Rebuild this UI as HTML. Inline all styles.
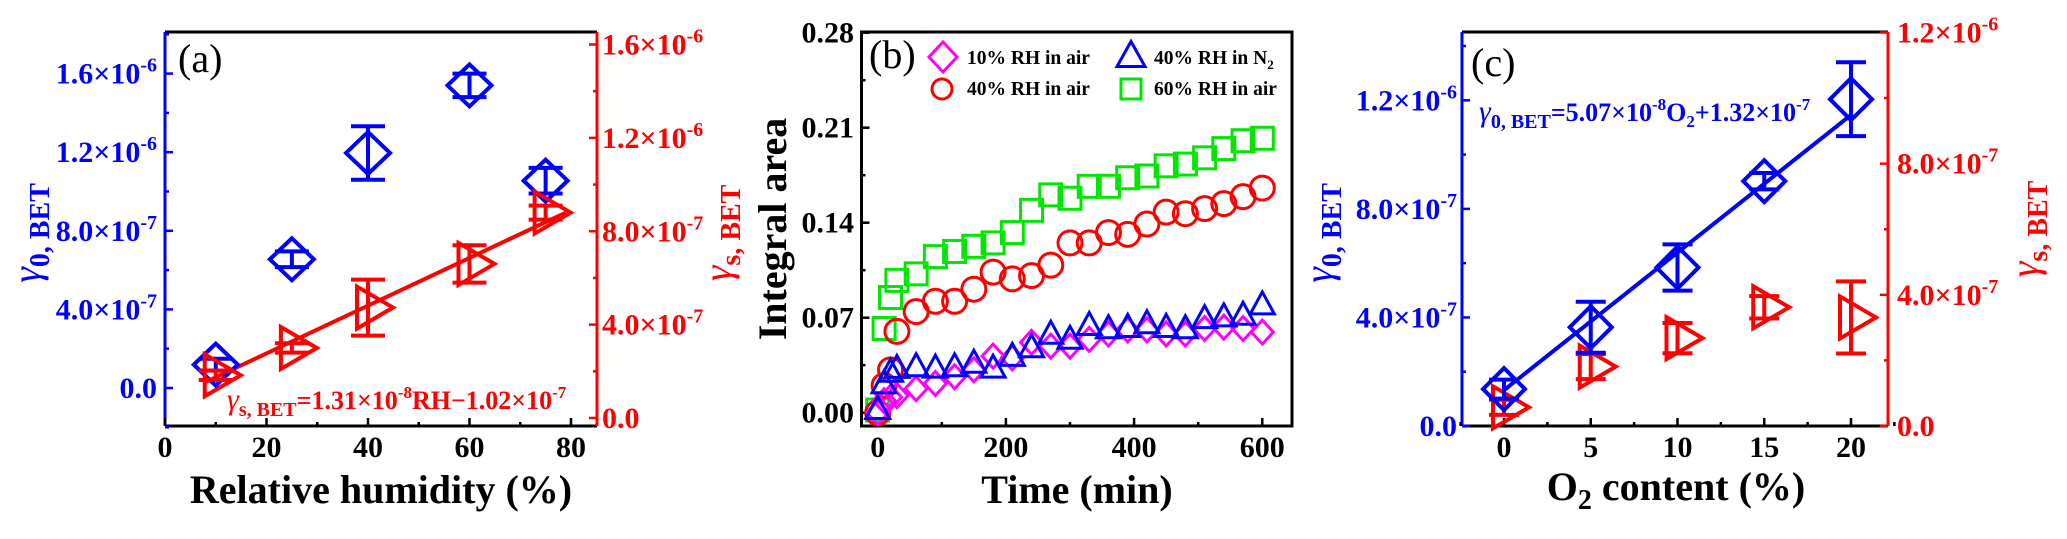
<!DOCTYPE html>
<html><head><meta charset="utf-8"><title>Uptake coefficient charts</title>
<style>
html,body{margin:0;padding:0;background:#fff;}
svg, svg text{font-family:"Liberation Serif","DejaVu Serif",serif;}
</style></head>
<body>
<svg id="chart" width="2067" height="534" viewBox="0 0 2067 534" xmlns="http://www.w3.org/2000/svg" font-family="Liberation Serif, DejaVu Serif, serif">
<rect x="0" y="0" width="2067" height="534" fill="#fff"/>
</svg>
<script>
// ---------- Panel (a) data ----------
const aRH = [10, 25, 40, 60, 75];
const aG0 = [1.19e-7, 6.55e-7, 1.196e-6, 1.54e-6, 1.055e-6];
const aG0Err = [0.3e-7, 0.4e-7, 1.36e-7, 0.6e-7, 0.65e-7];
const aGs = [1.83e-7, 3.0e-7, 4.73e-7, 6.6e-7, 8.8e-7];
const aGsErr = [0.2e-7, 0.2e-7, 1.2e-7, 0.8e-7, 0.3e-7];
const aFitX = [8, 79];
const aFitY = [1.54e-7, 8.8e-7];
const aXTicks = [0, 20, 40, 60, 80];
const aYTicks = [0, 4e-7, 8e-7, 1.2e-6, 1.6e-6];
const aYLabels = ['0.0', '4.0×10', '8.0×10', '1.2×10', '1.6×10'];
const aYExps = ['', '-7', '-7', '-6', '-6'];

// ---------- Panel (b) data ----------
const bTime = [0, 10, 20, 30, 60, 90, 120, 150, 180, 210, 240, 270, 300, 330, 360, 390, 420, 450, 480, 510, 540, 570, 600];
const b10Air = [0, 0.0088, 0.0114, 0.0126, 0.0177, 0.0215, 0.0265, 0.0316, 0.0417, 0.0404, 0.0518, 0.049, 0.049, 0.054, 0.058, 0.061, 0.061, 0.058, 0.058, 0.062, 0.063, 0.062, 0.0594];
const b40N2 = [0.0025, 0.0215, 0.030, 0.0328, 0.034, 0.033, 0.034, 0.0366, 0.033, 0.0417, 0.048, 0.058, 0.0543, 0.0644, 0.062, 0.063, 0.0657, 0.063, 0.062, 0.0695, 0.0708, 0.072, 0.0796];
const b40Air = [0, 0.020, 0.0316, 0.0599, 0.0745, 0.0821, 0.0821, 0.091, 0.1036, 0.0986, 0.101, 0.1087, 0.1251, 0.1251, 0.1327, 0.1314, 0.139, 0.1478, 0.1466, 0.1504, 0.1541, 0.1592, 0.1655];
const b60Air = [0.002, 0.062, 0.0849, 0.0975, 0.1023, 0.1150, 0.1188, 0.1226, 0.1251, 0.1327, 0.1491, 0.1605, 0.1580, 0.1668, 0.1668, 0.1731, 0.1744, 0.1819, 0.1832, 0.1878, 0.1946, 0.2004, 0.2022];
const bXTicks = [0, 200, 400, 600];
const bYTicks = [0, 0.07, 0.14, 0.21, 0.28];
const bYLabels = ['0.00', '0.07', '0.14', '0.21', '0.28'];

// ---------- Panel (c) data ----------
const cO2 = [0, 5, 10, 15, 20];
const cG0 = [1.36e-7, 3.64e-7, 5.84e-7, 9.02e-7, 1.204e-6];
const cG0Err = [0.35e-7, 0.94e-7, 0.85e-7, 0.3e-7, 1.36e-7];
const cGs = [0.57e-7, 1.81e-7, 2.68e-7, 3.62e-7, 3.31e-7];
const cGsErr = [0.23e-7, 0.38e-7, 0.46e-7, 0.34e-7, 1.1e-7];
const cFitSlope = [5.07e-8];
const cFitIntercept = [1.32e-7];
const cFitRange = [0, 20];
const cXTicks = [0, 5, 10, 15, 20];
const cYLTicks = [0, 4e-7, 8e-7, 1.2e-6];
const cYLLabels = ['0.0', '4.0×10', '8.0×10', '1.2×10'];
const cYLExps = ['', '-7', '-7', '-6'];
const cYRTicks = [0, 4e-7, 8e-7, 1.2e-6];
const cYRLabels = ['0.0', '4.0×10', '8.0×10', '1.2×10'];
const cYRExps = ['', '-7', '-7', '-6'];

const NS = 'http://www.w3.org/2000/svg';
const svg = document.getElementById('chart');
const BLUE = '#0000ff', RED = '#ff0000', GREEN = '#00e600', MAG = '#ff00ff', BLK = '#000';
const FF = '"Liberation Serif", "DejaVu Serif", serif';
function mk(tag, attrs, parent) {
  const e = document.createElementNS(NS, tag);
  for (const k in attrs) e.setAttribute(k, attrs[k]);
  if (tag === 'text') e.style.fontFamily = FF;
  (parent || svg).appendChild(e);
  return e;
}
function lin(d0, d1, p0, p1) { return v => p0 + (v - d0) * (p1 - p0) / (d1 - d0); }
function grp(name) {
  const g = mk('g', {});
  
  
  return g;
}
function diamondPts(cx, cy, hw, hh) { return `${cx},${cy - hh} ${cx + hw},${cy} ${cx},${cy + hh} ${cx - hw},${cy}`; }
function triRightPts(cx, cy) { return `${cx - 11},${cy - 21} ${cx - 11},${cy + 21} ${cx + 25},${cy}`; }
function triUpPts(cx, cy, w, h) { return `${cx - w / 2},${cy + h * 0.42} ${cx + w / 2},${cy + h * 0.42} ${cx},${cy - h * 0.58}`; }
function errPath(cx, y1, y2, hw) { return `M${cx - hw},${y1}H${cx + hw}M${cx},${y1}V${y2}M${cx - hw},${y2}H${cx + hw}`; }
function sciText(parent, x, y, main, exp, anchor, color, size, name) {
  const t = mk('text', { x: x, y: y, 'text-anchor': anchor, fill: color, 'font-size': size, 'font-weight': 'bold' }, parent);
  
  
  const s1 = mk('tspan', {}, t); s1.textContent = main;
  if (exp) { const s2 = mk('tspan', { dy: -12, 'font-size': Math.round(size * 0.66) }, t); s2.textContent = exp; }
  return t;
}
function vTitle(parent, x, cy, sub, color, name) {
  const t = mk('text', { transform: `translate(${x},${cy}) rotate(-90)`, 'text-anchor': 'middle', fill: color, 'font-weight': 'bold', 'font-size': 40 }, parent);
  
  
  const a = mk('tspan', { 'font-style': 'italic', 'font-weight': 'normal' }, t); a.textContent = 'γ';
  const b = mk('tspan', { dy: 9, 'font-size': 28 }, t); b.textContent = sub;
  return t;
}
function ticksX(parent, sx, vals, y, len) {
  vals.forEach(v => mk('line', { x1: sx(v), x2: sx(v), y1: y, y2: y - len, stroke: BLK, 'stroke-width': 2.5 }, parent));
}
function ticksY(parent, sy, vals, x, len, color) {
  vals.forEach(v => mk('line', { x1: x, x2: x + len, y1: sy(v), y2: sy(v), stroke: color, 'stroke-width': 2.5 }, parent));
}
function range(a, b, s) { const r = []; for (let v = a; v <= b + 1e-12; v += s) r.push(v); return r; }

// ================= PANEL A =================
(function () {
  const L = 165, R = 597, T = 32, B = 426;
  const sx = lin(0, 80, 165, 571);
  const yl = lin(0, 1.6e-6, 388, 73.6);
  const yr = lin(0, 1.6e-6, 418, 44.5);
  const g = grp('panel-a');
  const axes = grp('panel-a-axes'); g.appendChild(axes);
  mk('line', { x1: L, x2: R, y1: T, y2: T, stroke: BLK, 'stroke-width': 3 }, axes);
  mk('line', { x1: L, x2: R, y1: B, y2: B, stroke: BLK, 'stroke-width': 3 }, axes);
  mk('line', { x1: L, x2: L, y1: T, y2: B, stroke: BLUE, 'stroke-width': 3 }, axes);
  mk('line', { x1: R, x2: R, y1: T, y2: B, stroke: RED, 'stroke-width': 3 }, axes);
  ticksX(axes, sx, aXTicks, B, 8);
  ticksX(axes, sx, range(10, 70, 20), B, 4);
  ticksY(axes, yl, aYTicks, L, 8, BLUE);
  ticksY(axes, yl, range(-2e-7, 1.8e-6, 4e-7), L, 4, BLUE);
  ticksY(axes, yr, aYTicks, R, -8, RED);
  ticksY(axes, yr, range(2e-7, 1.4e-6, 4e-7), R, -4, RED);
  aXTicks.forEach((v, i) => { const t = mk('text', { x: sx(v), y: 457, 'text-anchor': 'middle', 'font-size': 30, 'font-weight': 'bold', fill: BLK }, axes);   t.textContent = String(v); });
  aYTicks.forEach((v, i) => sciText(axes, 157, yl(v) + 10, aYLabels[i], aYExps[i], 'end', BLUE, 30, 'left-y-tick-label'));
  aYTicks.forEach((v, i) => sciText(axes, 602, yr(v) + 10, aYLabels[i], aYExps[i], 'start', RED, 30, 'right-y-tick-label'));
  const xt = mk('text', { x: 381, y: 503, 'text-anchor': 'middle', 'font-size': 40, 'font-weight': 'bold', fill: BLK }, g);
    xt.textContent = 'Relative humidity (%)';
  vTitle(g, 40, 233, '0, BET', BLUE, 'left-y-axis-title');
  vTitle(g, 731, 233, 's, BET', RED, 'right-y-axis-title');
  const pl = mk('text', { x: 178, y: 72, 'font-size': 40, fill: BLK }, g);
    pl.textContent = '(a)';
  const fl = mk('line', { x1: sx(aFitX[0]), y1: yr(aFitY[0]), x2: sx(aFitX[1]), y2: yr(aFitY[1]), stroke: RED, 'stroke-width': 4 }, g);
   
  aRH.forEach((x, i) => {
    const cx = sx(x), cy = yl(aG0[i]);
    const e = mk('path', { d: errPath(cx, yl(aG0[i] + aG0Err[i]), yl(aG0[i] - aG0Err[i]), 17), stroke: BLUE, 'stroke-width': 4, fill: 'none' }, g);
     
    const m = mk('polygon', { points: diamondPts(cx, cy, 22, 21), stroke: BLUE, 'stroke-width': 4, fill: 'none' }, g);
     
  });
  aRH.forEach((x, i) => {
    const cx = sx(x), cy = yr(aGs[i]);
    const e = mk('path', { d: errPath(cx, yr(aGs[i] + aGsErr[i]), yr(aGs[i] - aGsErr[i]), 17), stroke: RED, 'stroke-width': 4, fill: 'none' }, g);
     
    const m = mk('polygon', { points: triRightPts(cx, cy), stroke: RED, 'stroke-width': 4, fill: 'none', 'stroke-linejoin': 'miter' }, g);
     
  });
  const eq = mk('text', { x: 227, y: 409, fill: RED, 'font-weight': 'bold', 'font-size': 26 }, g);
   
  eq.innerHTML = '<tspan font-style="italic" font-weight="normal" font-size="30">γ</tspan><tspan dy="7" font-size="20">s, BET</tspan><tspan dy="-7">=1.31×10</tspan><tspan dy="-11" font-size="17">-8</tspan><tspan dy="11">RH−1.02×10</tspan><tspan dy="-11" font-size="17">-7</tspan>';
})();

// ================= PANEL B =================
(function () {
  const L = 861.5, R = 1292, T = 32, B = 426;
  const sx = lin(0, 600, 877.7, 1262.3);
  const sy = lin(0, 0.28, 412.7, 32.7);
  const g = grp('panel-b');
  const axes = grp('panel-b-axes'); g.appendChild(axes);
  mk('rect', { x: L, y: T, width: R - L, height: B - T, fill: 'none', stroke: BLK, 'stroke-width': 3 }, axes);
  ticksX(axes, sx, bXTicks, B, 8);
  ticksX(axes, sx, range(100, 500, 200), B, 4);
  ticksY(axes, sy, bYTicks, L, 8, BLK);
  ticksY(axes, sy, range(0.035, 0.245, 0.07), L, 4, BLK);
  bXTicks.forEach(v => { const t = mk('text', { x: sx(v), y: 457, 'text-anchor': 'middle', 'font-size': 30, 'font-weight': 'bold', fill: BLK }, axes);   t.textContent = String(v); });
  bYTicks.forEach((v, i) => { const t = mk('text', { x: 854, y: sy(v) + 10, 'text-anchor': 'end', 'font-size': 30, 'font-weight': 'bold', fill: BLK }, axes);   t.textContent = bYLabels[i]; });
  const xt = mk('text', { x: 1077, y: 503, 'text-anchor': 'middle', 'font-size': 40, 'font-weight': 'bold', fill: BLK }, g);
    xt.textContent = 'Time (min)';
  const yt = mk('text', { transform: 'translate(786,229) rotate(-90)', 'text-anchor': 'middle', 'font-size': 40, 'font-weight': 'bold', fill: BLK }, g);
    yt.textContent = 'Integral area';
  const pl = mk('text', { x: 869, y: 68, 'font-size': 40, fill: BLK }, g);
    pl.textContent = '(b)';
  const sw = 3;
  bTime.forEach((t, i) => { const m = mk('rect', { x: sx(t) - 11, y: sy(b60Air[i]) - 11, width: 22, height: 22, fill: 'none', stroke: GREEN, 'stroke-width': sw }, g);   });
  bTime.forEach((t, i) => { const m = mk('circle', { cx: sx(t), cy: sy(b40Air[i]), r: 12, fill: 'none', stroke: RED, 'stroke-width': sw }, g);   });
  bTime.forEach((t, i) => { const m = mk('polygon', { points: diamondPts(sx(t), sy(b10Air[i]), 11, 12), fill: 'none', stroke: MAG, 'stroke-width': sw }, g);   });
  bTime.forEach((t, i) => { const m = mk('polygon', { points: triUpPts(sx(t), sy(b40N2[i]), 24, 22), fill: 'none', stroke: BLUE, 'stroke-width': sw }, g);   });
  const lg = grp('legend'); g.appendChild(lg);
  const e1 = mk('polygon', { points: diamondPts(943, 57, 14, 15), fill: 'none', stroke: MAG, 'stroke-width': 3 }, lg);  
  const e2 = mk('polygon', { points: triUpPts(1131, 56, 28, 25), fill: 'none', stroke: BLUE, 'stroke-width': 3 }, lg);  
  const e3 = mk('circle', { cx: 942, cy: 89, r: 10, fill: 'none', stroke: RED, 'stroke-width': 3 }, lg);  
  const e4 = mk('rect', { x: 1121, y: 79, width: 20, height: 20, fill: 'none', stroke: GREEN, 'stroke-width': 3 }, lg);  
  const t1 = mk('text', { x: 967, y: 64, 'font-size': 19.5, 'font-weight': 'bold', fill: BLK }, lg);   t1.textContent = '10% RH in air';
  const t2 = mk('text', { x: 1154, y: 64, 'font-size': 19.5, 'font-weight': 'bold', fill: BLK }, lg);   t2.innerHTML = '40% RH in N<tspan dy="5" font-size="13">2</tspan>';
  const t3 = mk('text', { x: 967, y: 95, 'font-size': 19.5, 'font-weight': 'bold', fill: BLK }, lg);   t3.textContent = '40% RH in air';
  const t4 = mk('text', { x: 1154, y: 95, 'font-size': 19.5, 'font-weight': 'bold', fill: BLK }, lg);   t4.textContent = '60% RH in air';
})();

// ================= PANEL C =================
(function () {
  const L = 1462, R = 1888, T = 32, B = 426;
  const sx = lin(0, 20, 1504, 1851);
  const yl = lin(0, 1.2e-6, 426, 100.3);
  const yr = lin(0, 1.2e-6, 426, 32.5);
  const g = grp('panel-c');
  const axes = grp('panel-c-axes'); g.appendChild(axes);
  mk('line', { x1: L, x2: R, y1: T, y2: T, stroke: BLK, 'stroke-width': 3 }, axes);
  mk('line', { x1: L, x2: R, y1: B, y2: B, stroke: BLK, 'stroke-width': 3 }, axes);
  mk('line', { x1: L, x2: L, y1: T, y2: B, stroke: BLUE, 'stroke-width': 3 }, axes);
  mk('line', { x1: R, x2: R, y1: T, y2: B, stroke: RED, 'stroke-width': 3 }, axes);
  ticksX(axes, sx, cXTicks, B, 8);
  ticksX(axes, sx, range(-2.5, 22.5, 5), B, 4);
  ticksY(axes, yl, cYLTicks, L, 8, BLUE);
  ticksY(axes, yl, range(2e-7, 1.4e-6, 4e-7), L, 4, BLUE);
  ticksY(axes, yr, cYRTicks, R, -8, RED);
  ticksY(axes, yr, range(2e-7, 1.0e-6, 4e-7), R, -4, RED);
  cXTicks.forEach(v => { const t = mk('text', { x: sx(v), y: 457, 'text-anchor': 'middle', 'font-size': 30, 'font-weight': 'bold', fill: BLK }, axes);   t.textContent = String(v); });
  cYLTicks.forEach((v, i) => sciText(axes, 1457, yl(v) + 10, cYLLabels[i], cYLExps[i], 'end', BLUE, 30, 'left-y-tick-label'));
  cYRTicks.forEach((v, i) => sciText(axes, 1897, yr(v) + 10, cYRLabels[i], cYRExps[i], 'start', RED, 30, 'right-y-tick-label'));
  const xt = mk('text', { x: 1676, y: 500, 'text-anchor': 'middle', 'font-size': 40, 'font-weight': 'bold', fill: BLK }, g);
   
  xt.innerHTML = 'O<tspan dy="9" font-size="28">2</tspan><tspan dy="-9"> content (%)</tspan>';
  vTitle(g, 1332, 233, '0, BET', BLUE, 'left-y-axis-title');
  vTitle(g, 2038, 229, 's, BET', RED, 'right-y-axis-title');
  const pl = mk('text', { x: 1471, y: 76, 'font-size': 40, fill: BLK }, g);
    pl.textContent = '(c)';
  const fl = mk('line', { x1: sx(cFitRange[0]), y1: yl(cFitIntercept[0] + cFitSlope[0] * cFitRange[0]), x2: sx(cFitRange[1]), y2: yl(cFitIntercept[0] + cFitSlope[0] * cFitRange[1]), stroke: BLUE, 'stroke-width': 4 }, g);
   
  cO2.forEach((x, i) => {
    const cx = sx(x), cy = yr(cGs[i]);
    const e = mk('path', { d: errPath(cx, yr(cGs[i] + cGsErr[i]), yr(cGs[i] - cGsErr[i]), 15), stroke: RED, 'stroke-width': 4, fill: 'none' }, g);
     
    const m = mk('polygon', { points: triRightPts(cx, cy), stroke: RED, 'stroke-width': 4, fill: 'none' }, g);
     
  });
  cO2.forEach((x, i) => {
    const cx = sx(x), cy = yl(cG0[i]);
    const e = mk('path', { d: errPath(cx, yl(cG0[i] + cG0Err[i]), yl(cG0[i] - cG0Err[i]), 15), stroke: BLUE, 'stroke-width': 4, fill: 'none' }, g);
     
    const m = mk('polygon', { points: diamondPts(cx, cy, 21, 21), stroke: BLUE, 'stroke-width': 4, fill: 'none' }, g);
     
  });
  const eq = mk('text', { x: 1479, y: 121, fill: BLUE, 'font-weight': 'bold', 'font-size': 26 }, g);
   
  eq.innerHTML = '<tspan font-style="italic" font-weight="normal" font-size="30">γ</tspan><tspan dy="7" font-size="20">0, BET</tspan><tspan dy="-7">=5.07×10</tspan><tspan dy="-11" font-size="17">-8</tspan><tspan dy="11">O</tspan><tspan dy="6" font-size="17">2</tspan><tspan dy="-6">+1.32×10</tspan><tspan dy="-11" font-size="17">-7</tspan>';
})();
</script>
</body></html>
